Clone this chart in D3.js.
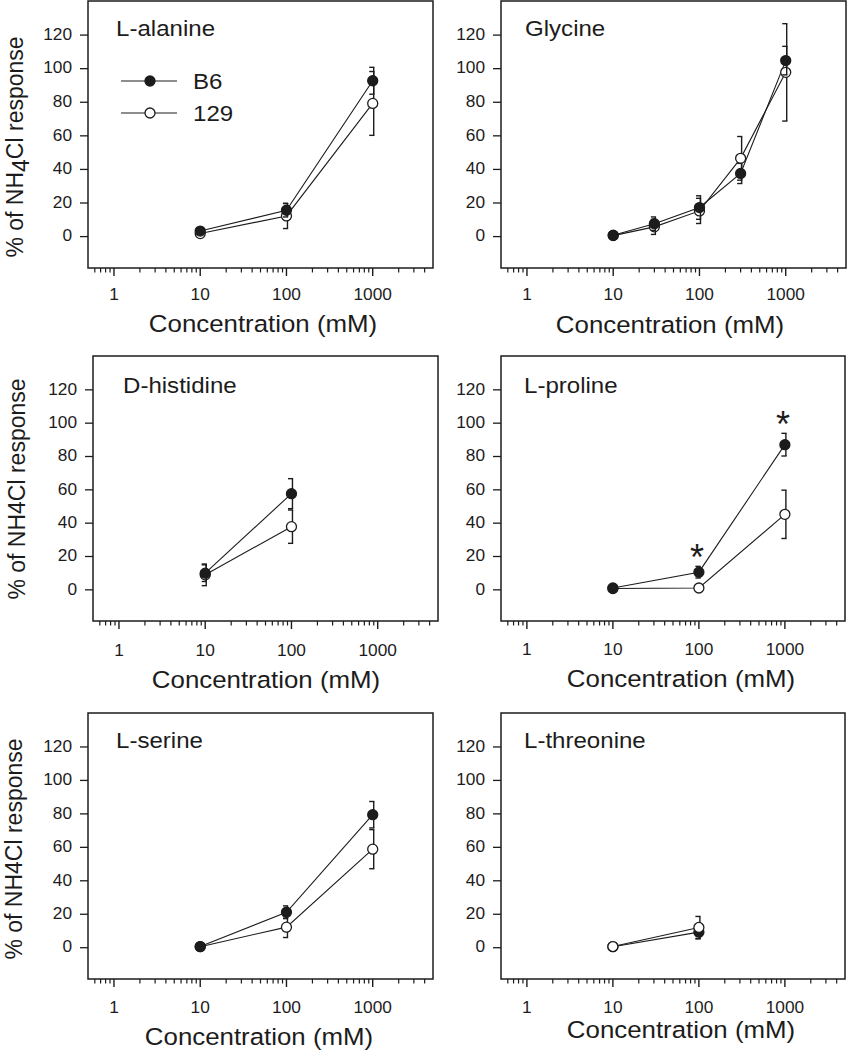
<!DOCTYPE html>
<html>
<head>
<meta charset="utf-8">
<script src="https://cdn.jsdelivr.net/npm/d3@7"></script>
<style>
  html, body { margin: 0; padding: 0; background: #fff; }
  svg { display: block; }
</style>
</head>
<body>
<script>
// ---------------- DATA ----------------
const panelNames = ["L-alanine", "Glycine", "D-histidine", "L-proline", "L-serine", "L-threonine"];
const seriesNames = ["B6", "129"];

const alanineConc = [10, 100, 1000];
const alanineB6 = [3, 15.4, 92.5];
const alanineB6Err = [1, 4, 8];
const alanine129 = [1.5, 12, 79];
const alanine129Err = [1, 7.5, 19];

const glycineConc = [10, 30, 100, 300, 1000];
const glycineB6 = [0.5, 7.4, 17, 37.3, 104.5];
const glycineB6Err = [0.5, 4, 7, 6, 8.5];
const glycine129 = [0.3, 5.5, 15, 46.3, 97.5];
const glycine129Err = [0.5, 4.5, 7.5, 13, 29];

const histidineConc = [10, 100];
const histidineB6 = [9.7, 57.4];
const histidineB6Err = [5, 9];
const histidine129 = [8.7, 37.6];
const histidine129Err = [6.5, 10];

const prolineConc = [10, 100, 1000];
const prolineB6 = [0.8, 10.3, 86.8];
const prolineB6Err = [0.5, 3.5, 6.8];
const proline129 = [0.5, 0.8, 45];
const proline129Err = [0.5, 0.5, 14.5];
const prolineSignificant = [100, 1000];

const serineConc = [10, 100, 1000];
const serineB6 = [0.4, 20.9, 79.2];
const serineB6Err = [0.5, 3.8, 7.9];
const serine129 = [0.3, 12, 58.6];
const serine129Err = [0.5, 6.2, 11.7];

const threonineConc = [10, 100];
const threonineB6 = [0.3, 9];
const threonineB6Err = [0.3, 4];
const threonine129 = [0.4, 11.8];
const threonine129Err = [0.3, 6.6];

const xDomain = [0.5, 5000];
const yDomain = [-19, 140];
const yTicks = [0, 20, 40, 60, 80, 100, 120];
const xTickLabels = ["1", "10", "100", "1000"];
const xTitle = "Concentration (mM)";

// ---------------- LAYOUT ----------------
const W = 848, H = 1050;
const FONT = "'Liberation Sans', Arial, Helvetica, sans-serif";
const INK = "#1c1c1c";

const layout = [
  {left: 88,  right: 433, top: 1,   bottom: 268, titleX: 116, titleY: 36,  tickY: 300,  xtX: 263, xtY: 332,  yl: "sub",   ylX: 23, ylY: 147, top129: false},
  {left: 501, right: 846, top: 1,   bottom: 268, titleX: 525, titleY: 36,  tickY: 300,  xtX: 670, xtY: 333,  yl: null, top129: false},
  {left: 93,  right: 438, top: 356, bottom: 621, titleX: 123, titleY: 393, tickY: 656,  xtX: 266, xtY: 688,  yl: "plain", ylX: 25, ylY: 489, top129: false},
  {left: 501, right: 845, top: 356, bottom: 621, titleX: 524, titleY: 393, tickY: 655,  xtX: 681, xtY: 687,  yl: null, top129: false},
  {left: 88,  right: 433, top: 713, bottom: 979, titleX: 116, titleY: 748, tickY: 1013, xtX: 259, xtY: 1045, yl: "plain", ylX: 22, ylY: 849, top129: false},
  {left: 501, right: 845, top: 713, bottom: 979, titleX: 524, titleY: 748, tickY: 1013, xtX: 681, xtY: 1038, yl: null, top129: true}
];

const panelData = [
  {conc: alanineConc,   b6: alanineB6,   b6e: alanineB6Err,   s129: alanine129,   s129e: alanine129Err},
  {conc: glycineConc,   b6: glycineB6,   b6e: glycineB6Err,   s129: glycine129,   s129e: glycine129Err},
  {conc: histidineConc, b6: histidineB6, b6e: histidineB6Err, s129: histidine129, s129e: histidine129Err},
  {conc: prolineConc,   b6: prolineB6,   b6e: prolineB6Err,   s129: proline129,   s129e: proline129Err, sig: prolineSignificant},
  {conc: serineConc,    b6: serineB6,    b6e: serineB6Err,    s129: serine129,    s129e: serine129Err},
  {conc: threonineConc, b6: threonineB6, b6e: threonineB6Err, s129: threonine129, s129e: threonine129Err}
];

const svg = d3.select("body").append("svg")
  .attr("width", W).attr("height", H)
  .attr("viewBox", `0 0 ${W} ${H}`);

function stretchedText(parent, x, y, str, size, anchor, sx) {
  const g = parent.append("g").attr("transform", `translate(${x},${y}) scale(${sx},1)`);
  return g.append("text")
    .attr("x", 0).attr("y", 0)
    .attr("font-family", FONT)
    .attr("font-size", size)
    .attr("text-anchor", anchor)
    .attr("fill", INK)
    .text(str);
}

const R = 5;

panelNames.forEach((name, i) => {
  const L = layout[i];
  const D = panelData[i];
  const g = svg.append("g");

  const x = d3.scaleLog().domain(xDomain).range([L.left, L.right]);
  const y = d3.scaleLinear().domain(yDomain).range([L.bottom, L.top]);

  // box
  g.append("rect")
    .attr("x", L.left).attr("y", L.top)
    .attr("width", L.right - L.left).attr("height", L.bottom - L.top)
    .attr("fill", "none").attr("stroke", INK).attr("stroke-width", 1.5);

  // y axis
  const yAxis = d3.axisLeft(y).tickValues(yTicks).tickSize(8).tickPadding(7).tickFormat(d3.format("d"));
  const ya = g.append("g").attr("transform", `translate(${L.left},0)`).call(yAxis);
  ya.select(".domain").remove();
  ya.selectAll(".tick line").attr("stroke", INK).attr("stroke-width", 1.3);
  ya.selectAll(".tick text").remove();
  yTicks.forEach(v => {
    const t = stretchedText(g, L.left - 16, y(v), String(v), 16, "end", 1.08);
    t.attr("dominant-baseline", "central");
  });

  // x axis ticks (major + minor)
  const allTicks = x.ticks();
  const isMajor = d => Math.abs(Math.log10(d) - Math.round(Math.log10(d))) < 1e-9;
  const xa = g.append("g").attr("transform", `translate(0,${L.bottom})`);
  xa.selectAll("line.minor").data(allTicks.filter(d => !isMajor(d) && d > xDomain[0] && d < xDomain[1]))
    .join("line").attr("class", "minor")
    .attr("x1", d => x(d)).attr("x2", d => x(d))
    .attr("y1", 0).attr("y2", 4.5)
    .attr("stroke", INK).attr("stroke-width", 1.2);
  const majors = allTicks.filter(isMajor);
  xa.selectAll("line.major").data(majors)
    .join("line").attr("class", "major")
    .attr("x1", d => x(d)).attr("x2", d => x(d))
    .attr("y1", 0).attr("y2", 8)
    .attr("stroke", INK).attr("stroke-width", 1.4);
  majors.forEach((d, k) => {
    if (k < xTickLabels.length) stretchedText(g, x(d), L.tickY, xTickLabels[k], 16, "middle", 1.08);
  });

  // x title
  stretchedText(g, L.xtX, L.xtY, xTitle, 23.5, "middle", 1.1);

  // panel title
  stretchedText(g, L.titleX, L.titleY, name, 21.5, "start", 1.12);

  // y label
  if (L.yl) {
    const t = g.append("text")
      .attr("transform", `translate(${L.ylX},${L.ylY}) rotate(-90)`)
      .attr("font-family", FONT).attr("font-size", 23)
      .attr("text-anchor", "middle").attr("fill", INK);
    if (L.yl === "sub") {
      t.append("tspan").text("% of NH");
      t.append("tspan").attr("dy", 6).attr("font-size", 23).text("4");
      t.append("tspan").attr("dy", -6).text("Cl response");
    } else {
      t.text("% of NH4Cl response");
    }
  }

  // series
  const series = [
    {key: "B6", vals: D.b6, errs: D.b6e, fill: INK},
    {key: "129", vals: D.s129, errs: D.s129e, fill: "#fff"}
  ];
  const order = L.top129 ? [series[0], series[1]] : [series[1], series[0]];

  const line = d3.line().x(d => x(d[0])).y(d => y(d[1]));

  // lines first
  order.forEach(s => {
    const pts = D.conc.map((c, k) => [c, s.vals[k]]);
    g.append("path").attr("d", line(pts))
      .attr("fill", "none").attr("stroke", INK).attr("stroke-width", 1.1);
  });
  // error bars + markers
  order.forEach(s => {
    D.conc.forEach((c, k) => {
      const cx = x(c);
      const yt = y(s.vals[k] + s.errs[k]), yb = y(s.vals[k] - s.errs[k]);
      const ex = cx + 1;
      g.append("line").attr("x1", ex).attr("x2", ex).attr("y1", yt).attr("y2", yb)
        .attr("stroke", INK).attr("stroke-width", 1.4);
      [yt, yb].forEach(yy => {
        g.append("line").attr("x1", ex - 4.5).attr("x2", ex + 0.7).attr("y1", yy).attr("y2", yy)
          .attr("stroke", INK).attr("stroke-width", 1.4);
      });
    });
    g.selectAll(null).data(D.conc.map((c, k) => [c, s.vals[k]]))
      .join("circle")
      .attr("cx", d => x(d[0])).attr("cy", d => y(d[1])).attr("r", R)
      .attr("fill", s.fill).attr("stroke", INK).attr("stroke-width", 1.3);
  });

  // significance asterisks
  if (D.sig) {
    D.sig.forEach(c => {
      const k = D.conc.indexOf(c);
      const top = Math.max(D.b6[k] + D.b6e[k], D.s129[k] + D.s129e[k]);
      const cy = y(top) - 16;
      g.append("text").attr("x", x(c) - 2).attr("y", cy + 20)
        .attr("font-family", FONT).attr("font-size", 36)
        .attr("text-anchor", "middle").attr("fill", INK).text("*");
    });
  }

  // legend in first panel
  if (i === 0) {
    const legY = [81, 113];
    const legFill = [INK, "#fff"];
    seriesNames.forEach((sn, k) => {
      g.append("line").attr("x1", 121).attr("x2", 177).attr("y1", legY[k]).attr("y2", legY[k])
        .attr("stroke", INK).attr("stroke-width", 1.2);
      g.append("circle").attr("cx", 150).attr("cy", legY[k]).attr("r", R)
        .attr("fill", legFill[k]).attr("stroke", INK).attr("stroke-width", 1.3);
      stretchedText(g, 193, legY[k], sn, 21.5, "start", 1.12).attr("dominant-baseline", "central");
    });
  }
});
</script>
</body>
</html>
